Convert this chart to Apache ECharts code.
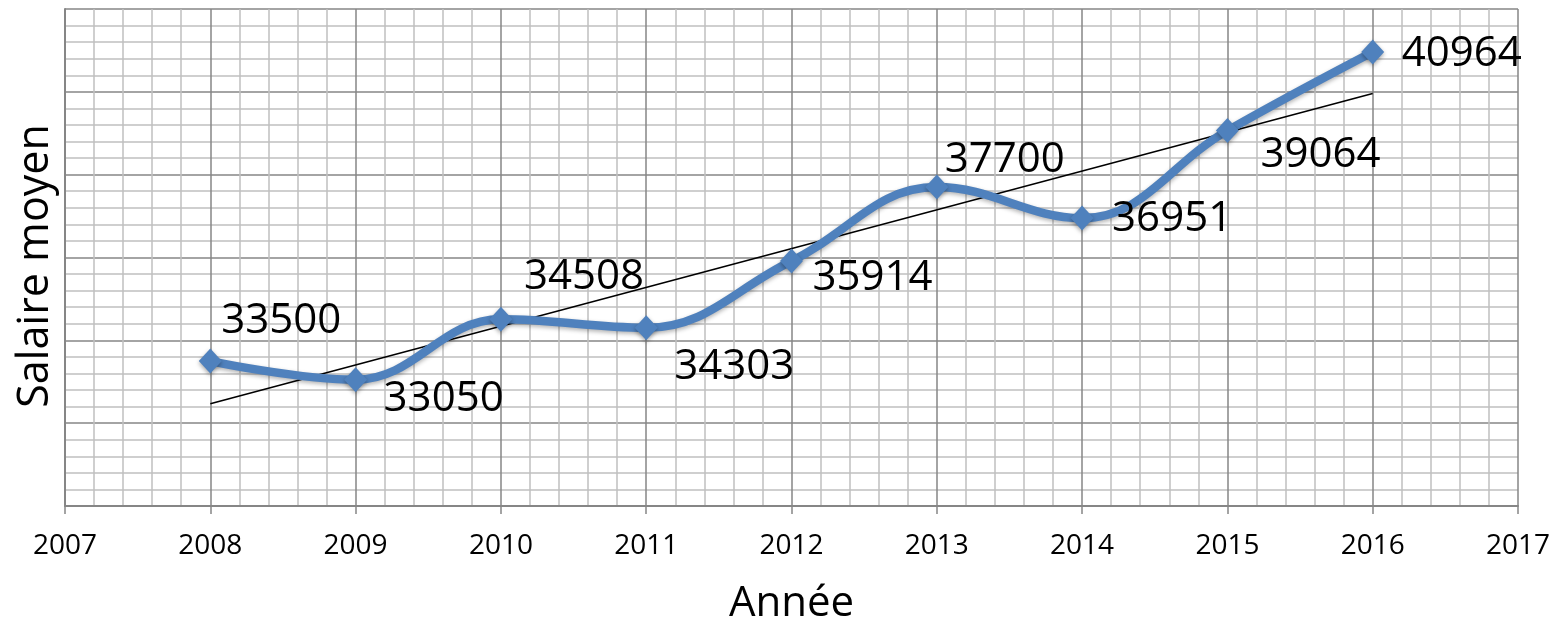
<!DOCTYPE html>
<html>
<head>
<meta charset="utf-8">
<script src="https://cdn.jsdelivr.net/npm/echarts@6/dist/echarts.min.js"></script>
<style>html,body{margin:0;padding:0;background:#fff}#c{width:1556px;height:630px}</style>
</head>
<body>
<div id="c"></div>
<script>
const years = [2008, 2009, 2010, 2011, 2012, 2013, 2014, 2015, 2016];
const salaries = [33500, 33050, 34508, 34303, 35914, 37700, 36951, 39064, 40964];
const trendYears = [2008, 2016];
const trendValues = [32470, 39960];
const xTitle = 'Année';
const yTitle = 'Salaire moyen';
// label offsets (px) relative to the marker: [dx of text left edge, dy of text centre]
const labelOffsets = [[11,-40],[28,19],[23,-42],[28,39],[21,17],[8,-27],[30,1],[33,24],[29,2]];

const FONT = 'Open Sans';
const chart = echarts.init(document.getElementById('c'), null, {renderer:'canvas'});
chart.setOption({
  animation: false,
  backgroundColor: '#fff',
  grid: {left: 65, right: 38, top: 9, bottom: 118, containLabel: false},
  xAxis: {
    type: 'value', min: 2007, max: 2017, interval: 1,
    name: xTitle, nameLocation: 'middle', nameGap: 77,
    nameTextStyle: {fontFamily: FONT, fontSize: 42, color: '#000'},
    axisLine: {show: true, lineStyle: {color: '#868686', width: 2}},
    axisTick: {show: true, length: 8, lineStyle: {color: '#868686', width: 1.5}},
    axisLabel: {fontFamily: FONT, fontSize: 28, color: '#000', margin: 26, formatter: v => String(v)},
    splitLine: {show: true, lineStyle: {color: '#868686', width: 1.5}},
    minorTick: {show: false, splitNumber: 5},
    minorSplitLine: {show: true, lineStyle: {color: '#c0c0c0', width: 1.5}}
  },
  yAxis: {
    type: 'value', min: 30000, max: 42000, interval: 2000,
    name: yTitle, nameLocation: 'middle', nameGap: 8,
    nameTextStyle: {fontFamily: FONT, fontSize: 43, color: '#000', padding: [0, 17, 0, 0]},
    axisLine: {show: true, lineStyle: {color: '#868686', width: 2}},
    axisTick: {show: false},
    axisLabel: {show: false},
    splitLine: {show: true, lineStyle: {color: '#868686', width: 1.5}},
    minorTick: {show: false, splitNumber: 5},
    minorSplitLine: {show: true, lineStyle: {color: '#c0c0c0', width: 1.5}}
  },
  series: [
    {
      type: 'line', z: 3,
      data: trendYears.map((y, i) => [y, trendValues[i]]),
      symbol: 'none', silent: true,
      lineStyle: {color: '#000', width: 1.5}
    },
    {
      type: 'line', z: 4,
      smooth: 0.4,
      data: years.map((y, i) => ({
        value: [y, salaries[i]],
        label: {offset: labelOffsets[i]}
      })),
      symbol: 'diamond', symbolSize: [23, 25],
      itemStyle: {color: '#4F81BD', shadowBlur: 4, shadowColor: 'rgba(0,0,0,0.35)', shadowOffsetY: 2},
      lineStyle: {color: '#4F81BD', width: 8.5, shadowBlur: 4, shadowColor: 'rgba(0,0,0,0.3)', shadowOffsetY: 2},
      label: {
        show: true, position: 'inside', align: 'left', verticalAlign: 'middle',
        fontFamily: FONT, fontSize: 42, color: '#000',
        formatter: p => String(p.value[1])
      }
    }
  ]
});
</script>
</body>
</html>
